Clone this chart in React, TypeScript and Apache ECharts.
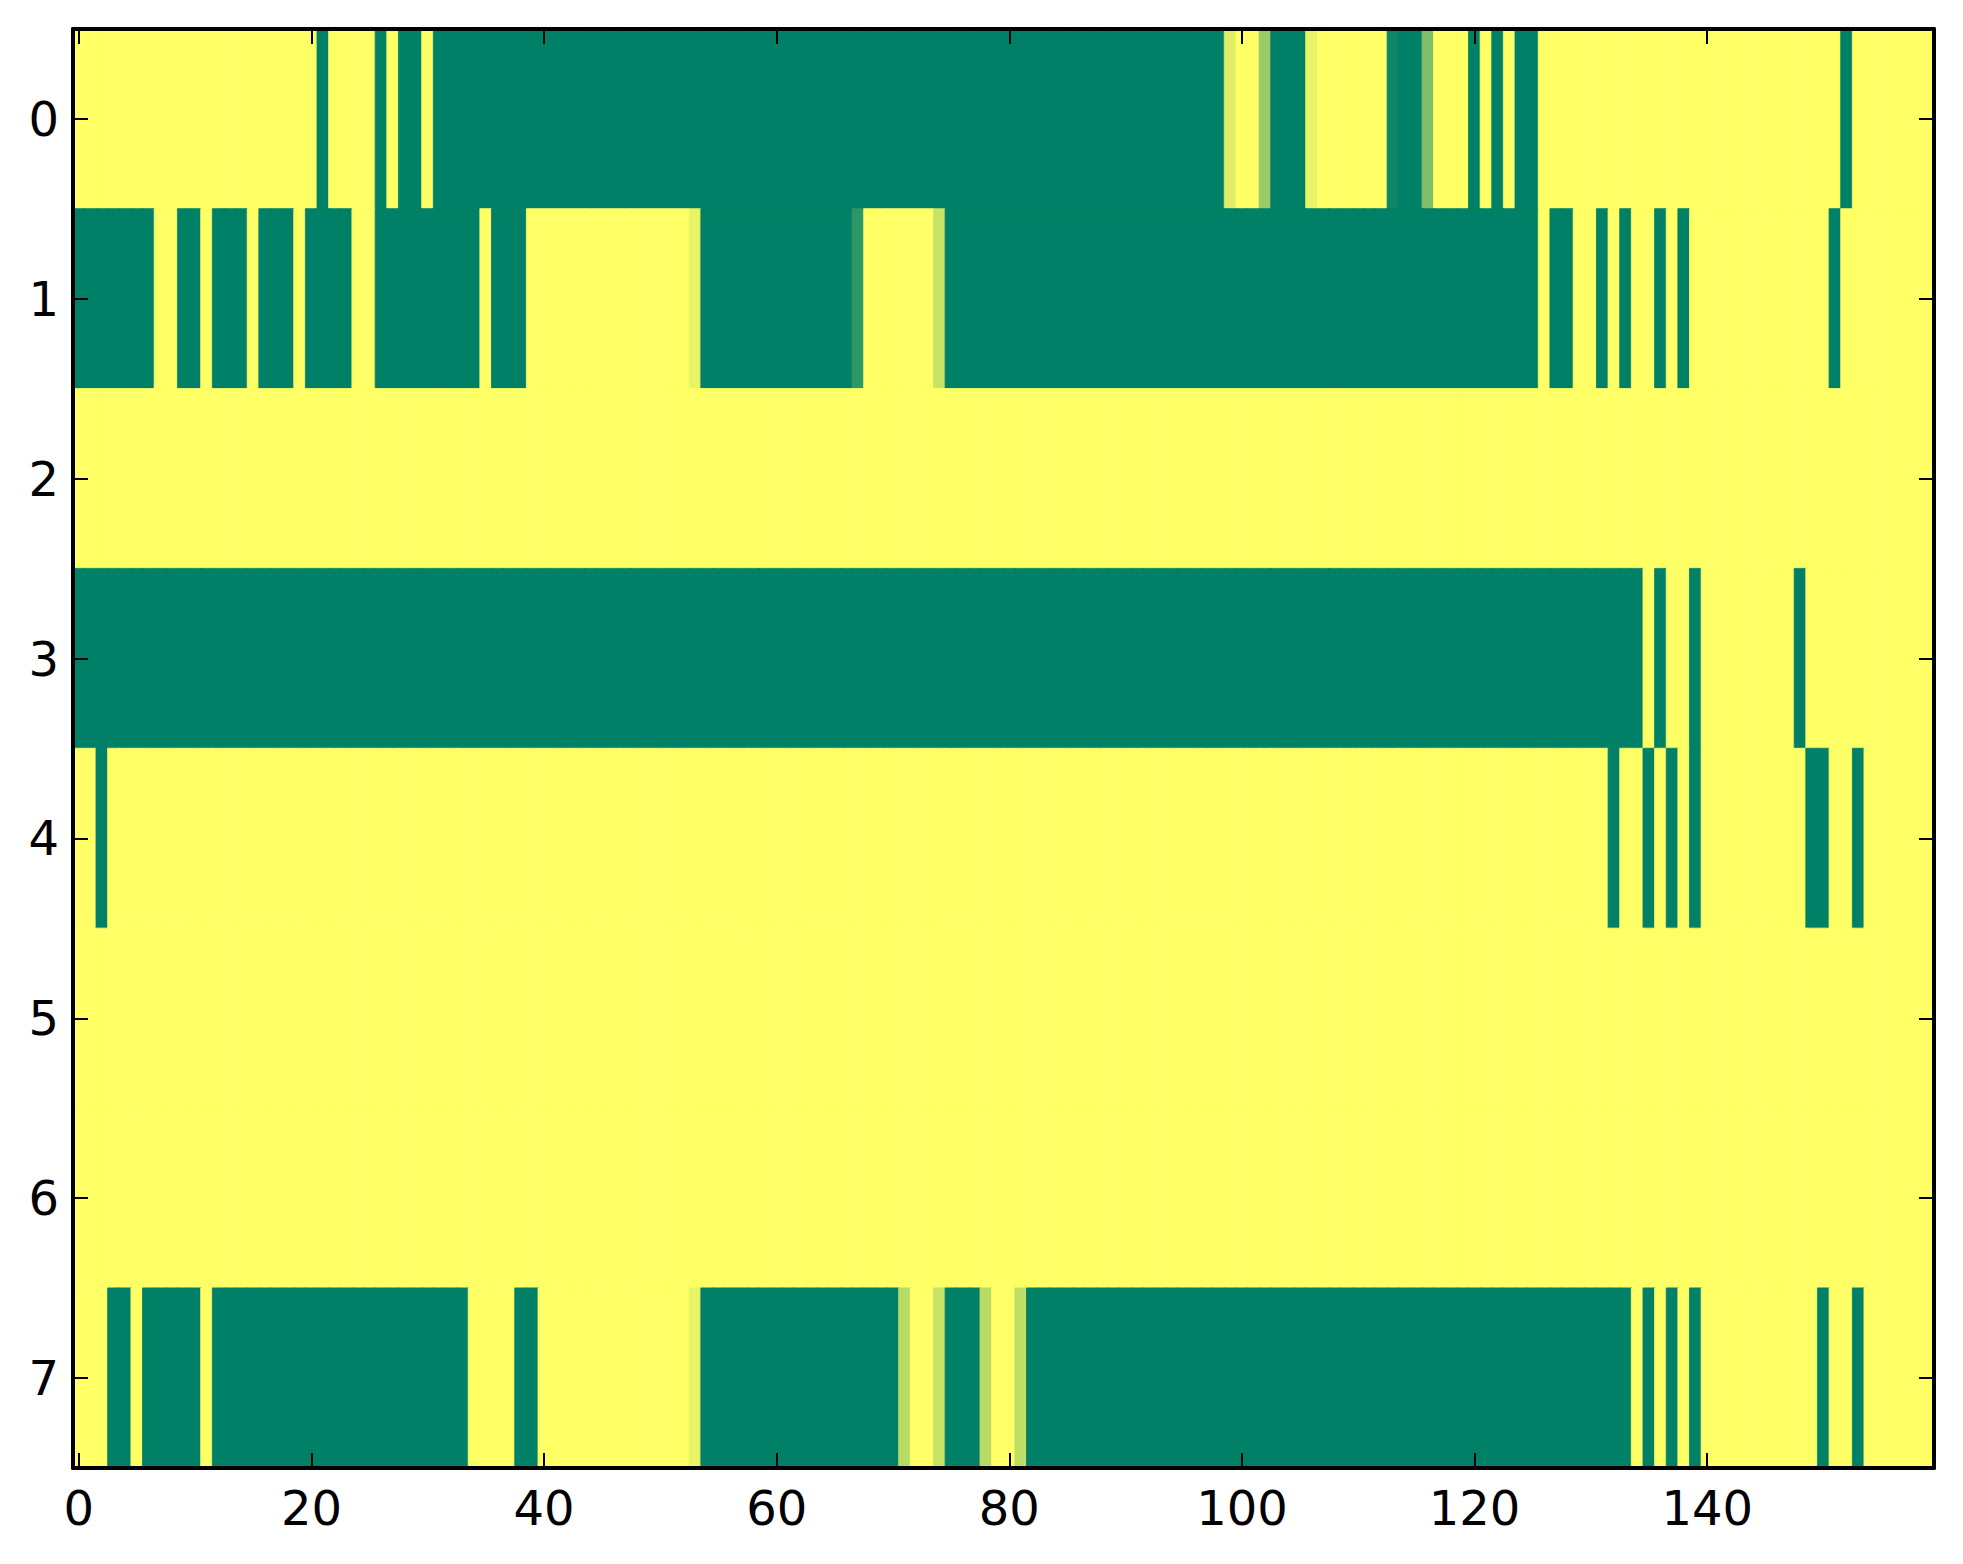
import React, { useEffect, useRef } from "react";
import * as echarts from "echarts";

// Column categories 0..159 and row categories 0..7
const xCategories: string[] = Array.from({ length: 160 }, (_, i) => String(i));
const yCategories: string[] = ["0", "1", "2", "3", "4", "5", "6", "7"];
const xTickLabels: string[] = ["0", "20", "40", "60", "80", "100", "120", "140"];

// Cell values per row (0 = green, 1 = yellow), 20 values per line
const row0: number[] = [
  1,1,1,1,1,1,1,1,1,1,1,1,1,1,1,1,1,1,1,1,
  1,0,1,1,1,1,0,1,0,0,1,0,0,0,0,0,0,0,0,0,
  0,0,0,0,0,0,0,0,0,0,0,0,0,0,0,0,0,0,0,0,
  0,0,0,0,0,0,0,0,0,0,0,0,0,0,0,0,0,0,0,0,
  0,0,0,0,0,0,0,0,0,0,0,0,0,0,0,0,0,0,0,0.87,
  1,1,0.6,0,0,0,0.91,1,1,1,1,1,1,0.05,0,0,0.49,1,1,1,
  0,1,0,1,0,0,1,1,1,1,1,1,1,1,1,1,1,1,1,1,
  1,1,1,1,1,1,1,1,1,1,1,1,0,1,1,1,1,1,1,1,
];
const row1: number[] = [
  0,0,0,0,0,0,0,1,1,0,0,1,0,0,0,1,0,0,0,1,
  0,0,0,0,1,1,0,0,0,0,0,0,0,0,0,1,0,0,0,1,
  1,1,1,1,1,1,1,1,1,1,1,1,1,0.91,0,0,0,0,0,0,
  0,0,0,0,0,0,0,0.18,1,1,1,1,1,1,0.78,0,0,0,0,0,
  0,0,0,0,0,0,0,0,0,0,0,0,0,0,0,0,0,0,0,0,
  0,0,0,0,0,0,0,0,0,0,0,0,0,0,0,0,0,0,0,0,
  0,0,0,0,0,0,1,0,0,1,1,0,1,0,1,1,0,1,0,1,
  1,1,1,1,1,1,1,1,1,1,1,0,1,1,1,1,1,1,1,1,
];
const row2: number[] = [
  1,1,1,1,1,1,1,1,1,1,1,1,1,1,1,1,1,1,1,1,
  1,1,1,1,1,1,1,1,1,1,1,1,1,1,1,1,1,1,1,1,
  1,1,1,1,1,1,1,1,1,1,1,1,1,1,1,1,1,1,1,1,
  1,1,1,1,1,1,1,1,1,1,1,1,1,1,1,1,1,1,1,1,
  1,1,1,1,1,1,1,1,1,1,1,1,1,1,1,1,1,1,1,1,
  1,1,1,1,1,1,1,1,1,1,1,1,1,1,1,1,1,1,1,1,
  1,1,1,1,1,1,1,1,1,1,1,1,1,1,1,1,1,1,1,1,
  1,1,1,1,1,1,1,1,1,1,1,1,1,1,1,1,1,1,1,1,
];
const row3: number[] = [
  0,0,0,0,0,0,0,0,0,0,0,0,0,0,0,0,0,0,0,0,
  0,0,0,0,0,0,0,0,0,0,0,0,0,0,0,0,0,0,0,0,
  0,0,0,0,0,0,0,0,0,0,0,0,0,0,0,0,0,0,0,0,
  0,0,0,0,0,0,0,0,0,0,0,0,0,0,0,0,0,0,0,0,
  0,0,0,0,0,0,0,0,0,0,0,0,0,0,0,0,0,0,0,0,
  0,0,0,0,0,0,0,0,0,0,0,0,0,0,0,0,0,0,0,0,
  0,0,0,0,0,0,0,0,0,0,0,0,0,0,0,1,0,1,1,0,
  1,1,1,1,1,1,1,1,0,1,1,1,1,1,1,1,1,1,1,1,
];
const row4: number[] = [
  1,1,0,1,1,1,1,1,1,1,1,1,1,1,1,1,1,1,1,1,
  1,1,1,1,1,1,1,1,1,1,1,1,1,1,1,1,1,1,1,1,
  1,1,1,1,1,1,1,1,1,1,1,1,1,1,1,1,1,1,1,1,
  1,1,1,1,1,1,1,1,1,1,1,1,1,1,1,1,1,1,1,1,
  1,1,1,1,1,1,1,1,1,1,1,1,1,1,1,1,1,1,1,1,
  1,1,1,1,1,1,1,1,1,1,1,1,1,1,1,1,1,1,1,1,
  1,1,1,1,1,1,1,1,1,1,1,1,0,1,1,0,1,0,1,0,
  1,1,1,1,1,1,1,1,1,0,0,1,1,0,1,1,1,1,1,1,
];
const row5: number[] = [
  1,1,1,1,1,1,1,1,1,1,1,1,1,1,1,1,1,1,1,1,
  1,1,1,1,1,1,1,1,1,1,1,1,1,1,1,1,1,1,1,1,
  1,1,1,1,1,1,1,1,1,1,1,1,1,1,1,1,1,1,1,1,
  1,1,1,1,1,1,1,1,1,1,1,1,1,1,1,1,1,1,1,1,
  1,1,1,1,1,1,1,1,1,1,1,1,1,1,1,1,1,1,1,1,
  1,1,1,1,1,1,1,1,1,1,1,1,1,1,1,1,1,1,1,1,
  1,1,1,1,1,1,1,1,1,1,1,1,1,1,1,1,1,1,1,1,
  1,1,1,1,1,1,1,1,1,1,1,1,1,1,1,1,1,1,1,1,
];
const row6: number[] = [
  1,1,1,1,1,1,1,1,1,1,1,1,1,1,1,1,1,1,1,1,
  1,1,1,1,1,1,1,1,1,1,1,1,1,1,1,1,1,1,1,1,
  1,1,1,1,1,1,1,1,1,1,1,1,1,1,1,1,1,1,1,1,
  1,1,1,1,1,1,1,1,1,1,1,1,1,1,1,1,1,1,1,1,
  1,1,1,1,1,1,1,1,1,1,1,1,1,1,1,1,1,1,1,1,
  1,1,1,1,1,1,1,1,1,1,1,1,1,1,1,1,1,1,1,1,
  1,1,1,1,1,1,1,1,1,1,1,1,1,1,1,1,1,1,1,1,
  1,1,1,1,1,1,1,1,1,1,1,1,1,1,1,1,1,1,1,1,
];
const row7: number[] = [
  1,1,1,0,0,1,0,0,0,0,0,1,0,0,0,0,0,0,0,0,
  0,0,0,0,0,0,0,0,0,0,0,0,0,0,1,1,1,1,0,0,
  1,1,1,1,1,1,1,1,1,1,1,1,1,0.91,0,0,0,0,0,0,
  0,0,0,0,0,0,0,0,0,0,0,0.72,1,1,0.78,0,0,0,0.72,1,
  1,0.75,0,0,0,0,0,0,0,0,0,0,0,0,0,0,0,0,0,0,
  0,0,0,0,0,0,0,0,0,0,0,0,0,0,0,0,0,0,0,0,
  0,0,0,0,0,0,0,0,0,0,0,0,0,0,1,0,1,0,1,0,
  1,1,1,1,1,1,1,1,1,1,0,1,1,0,1,1,1,1,1,1,
];

const rows: number[][] = [row0, row1, row2, row3, row4, row5, row6, row7];

// matplotlib "summer" colormap: (v, 0.5 + 0.5 v, 0.4)
function summer(v: number): string {
  const r = Math.round(255 * v);
  const g = Math.round(255 * (0.5 + 0.5 * v));
  const b = Math.round(255 * 0.4);
  return `rgb(${r},${g},${b})`;
}

export default function App() {
  const ref = useRef<HTMLDivElement>(null);

  useEffect(() => {
    if (!ref.current) return;
    const chart = echarts.init(ref.current, undefined, { renderer: "svg" });

    const data: any[] = [];
    rows.forEach((r, y) =>
      r.forEach((v, x) => {
        const c = summer(v);
        data.push({
          value: [x, y, v],
          itemStyle: { borderColor: c, borderWidth: 0.8 },
        });
      })
    );

    const showTick = (index: number) => xTickLabels.indexOf(String(index)) >= 0;
    const axisLine = { show: true, onZero: false, lineStyle: { color: "#000", width: 4 } };
    const xTick = {
      show: true,
      inside: true,
      alignWithLabel: true,
      interval: showTick,
      length: 15,
      lineStyle: { color: "#000", width: 2 },
    };
    const yTick = {
      show: true,
      inside: true,
      alignWithLabel: true,
      interval: 0,
      length: 15,
      lineStyle: { color: "#000", width: 2 },
    };
    const labelStyle = {
      fontFamily: "DejaVu Sans",
      fontSize: 48,
      color: "#000",
    };

    chart.setOption({
      animation: false,
      backgroundColor: "#fff",
      grid: { left: 73, top: 29, right: 29, bottom: 96, containLabel: false },
      xAxis: [
        {
          type: "category",
          data: xCategories,
          position: "bottom",
          z: 10,
          axisLine,
          axisTick: xTick,
          axisLabel: { ...labelStyle, interval: showTick, margin: 16 },
          splitLine: { show: false },
          splitArea: { show: false },
        },
        {
          type: "category",
          data: xCategories,
          position: "top",
          z: 10,
          axisLine,
          axisTick: xTick,
          axisLabel: { show: false },
          splitLine: { show: false },
        },
      ],
      yAxis: [
        {
          type: "category",
          data: yCategories,
          inverse: true,
          position: "left",
          z: 10,
          axisLine,
          axisTick: yTick,
          axisLabel: { ...labelStyle, interval: 0, margin: 14 },
          splitLine: { show: false },
          splitArea: { show: false },
        },
        {
          type: "category",
          data: yCategories,
          inverse: true,
          position: "right",
          z: 10,
          axisLine,
          axisTick: yTick,
          axisLabel: { show: false },
          splitLine: { show: false },
        },
      ],
      visualMap: {
        show: false,
        type: "continuous",
        min: 0,
        max: 1,
        dimension: 2,
        seriesIndex: 0,
        inRange: { color: [summer(0), summer(1)] },
      },
      series: [
        {
          type: "heatmap",
          xAxisIndex: 0,
          yAxisIndex: 0,
          data,
          progressive: 0,
          emphasis: { disabled: true },
        },
      ],
    });

    return () => chart.dispose();
  }, []);

  return (
    <div
      ref={ref}
      style={{ position: "fixed", left: 0, top: 0, width: 1963, height: 1564, background: "#fff" }}
    />
  );
}
